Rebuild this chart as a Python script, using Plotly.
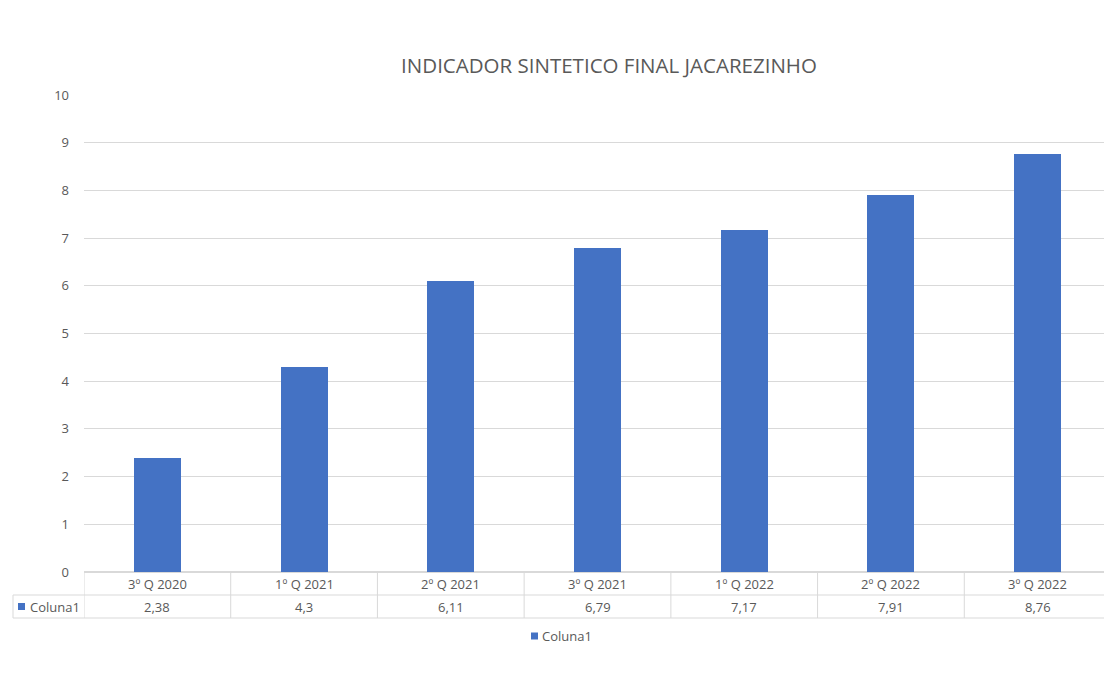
import plotly.graph_objects as go

title = 'INDICADOR SINTETICO FINAL JACAREZINHO'
series_name = 'Coluna1'
quarters = ['3º Q 2020', '1º Q 2021', '2º Q 2021', '3º Q 2021', '1º Q 2022', '2º Q 2022', '3º Q 2022']
values = [2.38, 4.3, 6.11, 6.79, 7.17, 7.91, 8.76]
value_labels = ['2,38', '4,3', '6,11', '6,79', '7,17', '7,91', '8,76']

bar_color = '#4472C4'
text_color = '#595959'
line_color = '#D9D9D9'
font = 'Open Sans, Noto Sans, sans-serif'

off = 7  # page body offset
W, H = 1112 - off, 680 - off  # keep figure inside the window
m_l, m_t = 83 - off, 94 - off
m_r = W - (1110 - off)
m_b = H - (571 - off)
plot_w = W - m_l - m_r
plot_h = H - m_t - m_b
row_h = 23 / plot_h  # table row height in paper units


def px_x(p):
    return (p - off - m_l) / plot_w


def px_y(p):
    return 1 - (p - off - m_t) / plot_h


fig = go.Figure()
fig.add_trace(go.Bar(
    x=list(range(len(quarters))),
    y=values,
    name=series_name,
    marker=dict(color=bar_color, line=dict(width=0)),
    width=0.32,
    hoverinfo='y',
    showlegend=False
))

shapes = []
annotations = []
tfont = dict(size=13, color=text_color, family=font)

# data table below the axis (Excel style)
n = len(quarters)
left_edge = px_x(12)
for i in range(n + 1):
    shapes.append(dict(type='line', xref='x', yref='paper', x0=i - 0.5, x1=i - 0.5,
                       y0=0, y1=-2 * row_h, line=dict(color=line_color, width=1)))
for k in (1, 2):
    shapes.append(dict(type='line', xref='paper', yref='paper', x0=left_edge, x1=1,
                       y0=-k * row_h, y1=-k * row_h, line=dict(color=line_color, width=1)))
shapes.append(dict(type='line', xref='paper', yref='paper', x0=left_edge, x1=left_edge,
                   y0=-row_h, y1=-2 * row_h, line=dict(color=line_color, width=1)))

for i, (q, v) in enumerate(zip(quarters, value_labels)):
    annotations.append(dict(x=i, y=-0.5 * row_h, xref='x', yref='paper', text=q,
                            yanchor='middle', xanchor='center', showarrow=False, font=tfont))
    annotations.append(dict(x=i, y=-1.5 * row_h, xref='x', yref='paper', text=v,
                            yanchor='middle', xanchor='center', showarrow=False, font=tfont))


# series key in the table and legend below
def add_key(sq_left, text_left, yc):
    half = 3.5
    shapes.append(dict(type='rect', xref='paper', yref='paper',
                       x0=px_x(sq_left), x1=px_x(sq_left + 7),
                       y0=yc - half / plot_h, y1=yc + half / plot_h,
                       fillcolor=bar_color, line=dict(width=0)))
    annotations.append(dict(x=px_x(text_left), y=yc, xref='paper', yref='paper',
                            text=series_name, xanchor='left', yanchor='middle', showarrow=False,
                            font=tfont))


add_key(17, 27, -1.5 * row_h)
add_key(530, 539, px_y(635))

fig.update_layout(
    width=W, height=H,
    margin=dict(l=m_l, r=m_r, t=m_t, b=m_b),
    paper_bgcolor='white', plot_bgcolor='white',
    title=dict(text=title, x=(608 - off) / W, xanchor='center', y=1 - (65 - off) / H,
               yanchor='middle', font=dict(size=20.5, color=text_color, family=font)),
    xaxis=dict(range=[-0.5, n - 0.5], showticklabels=False, showgrid=False, zeroline=False,
               fixedrange=True),
    yaxis=dict(range=[0, 10], dtick=1, showgrid=True, gridcolor=line_color, zeroline=True,
               zerolinecolor=line_color, ticklabelstandoff=14,
               tickfont=dict(size=13, color=text_color, family=font)),
    showlegend=False,
    shapes=shapes,
    annotations=annotations,
    bargap=0,
)

fig.write_html('out.html')
